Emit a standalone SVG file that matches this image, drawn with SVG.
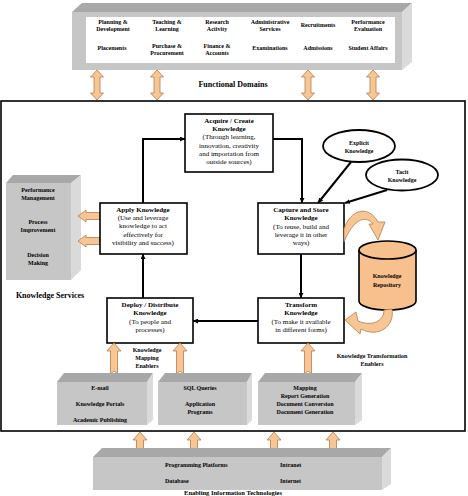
<svg xmlns="http://www.w3.org/2000/svg" width="468" height="496" viewBox="0 0 468 496">
<defs>
<marker id="ah" viewBox="0 0 8 8" refX="8" refY="4" markerWidth="5" markerHeight="5" orient="auto" markerUnits="userSpaceOnUse">
<path d="M0,0 L8,4 L0,8 Z" fill="#000"/>
</marker>
</defs>
<style>
text{font-family:"Liberation Serif","Times New Roman",serif;fill:#000;text-anchor:middle}
.b{font-weight:bold}
.s6{font-size:6px}
.s7{font-size:7px}
.s8{font-size:8px}
.front{fill:#C6C6C6}
.top{fill:#A8A8A8}
.side{fill:#DADADA}
.box{fill:#fff;stroke:#000;stroke-width:1.6}
.conn{fill:none;stroke:#000;stroke-width:2;marker-end:url(#ah)}
.pe{fill:#F8C692;stroke:#B07D50;stroke-width:0.8}
.ell{fill:#fff;stroke:#000;stroke-width:1.8}
.l{text-anchor:start}
</style>
<rect x="0" y="0" width="468" height="496" fill="#fff"/>

<g id="functional-domains">
<polygon class="top" points="72,12 82,3 412,3 402,12"/>
<polygon class="side" points="402,12 412,3 412,62 402,70"/>
<rect class="front" x="72" y="12" width="330" height="58"/>
<rect x="86" y="17" width="309" height="46" fill="#fff"/>
<g class="b s6">
<text x="113" y="24">Planning &amp;</text><text x="113" y="31">Development</text>
<text x="167" y="24">Teaching &amp;</text><text x="167" y="31">Learning</text>
<text x="217" y="24">Research</text><text x="217" y="31">Activity</text>
<text x="270" y="24">Administrative</text><text x="270" y="31">Services</text>
<text x="318" y="27">Recruitments</text>
<text x="368" y="24">Performance</text><text x="368" y="31">Evaluation</text>
<text x="112" y="50">Placements</text>
<text x="167" y="48">Purchase &amp;</text><text x="167" y="55">Procurement</text>
<text x="217" y="48">Finance &amp;</text><text x="217" y="55">Accounts</text>
<text x="270" y="50">Examinations</text>
<text x="318" y="50">Admissions</text>
<text x="368" y="50">Student Affairs</text>
</g>
<text class="b s8" x="233" y="87">Functional Domains</text>
</g>

<g id="domain-arrows">
<polygon class="pe" points="97,70 103.5,77 100,77 100,93 103.5,93 97,100 90.5,93 94,93 94,77 90.5,77"/>
<polygon class="pe" points="157,70 163.5,77 160,77 160,93 163.5,93 157,100 150.5,93 154,93 154,77 150.5,77"/>
<polygon class="pe" points="308,70 314.5,77 311,77 311,93 314.5,93 308,100 301.5,93 305,93 305,77 301.5,77"/>
<polygon class="pe" points="373,70 379.5,77 376,77 376,93 379.5,93 373,100 366.5,93 370,93 370,77 366.5,77"/>
</g>

<g id="knowledge-services-frame">
<rect x="1" y="101" width="464" height="330" fill="none" stroke="#000" stroke-width="1.6"/>
<text class="b s8" x="50" y="298">Knowledge Services</text>
</g>

<g id="performance-box">
<polygon class="top" points="6,183 13,175 81,175 71,183"/>
<polygon class="side" points="71,183 81,175 81,270 71,280"/>
<rect class="front" x="6" y="183" width="65" height="97"/>
<g class="b s6">
<text x="38" y="192">Performance</text><text x="38" y="200">Management</text>
<text x="38" y="224">Process</text><text x="38" y="232">Improvement</text>
<text x="38" y="257">Decision</text><text x="38" y="265">Making</text>
</g>
</g>

<g id="apply-arrows">
<polygon class="pe" points="78,216 86,210 86,212.5 100,212.5 100,219.5 86,219.5 86,222"/>
<polygon class="pe" points="78,241 86,235 86,237.5 100,237.5 100,244.5 86,244.5 86,247"/>
</g>

<g id="connectors">
<path class="conn" d="M143,203 V139 H185"/>
<path class="conn" d="M273,139 H302 V203"/>
<path class="conn" d="M301,254 V298"/>
<path class="conn" d="M258,321 H193"/>
<path class="conn" d="M143,298 V254"/>
<path class="conn" d="M351,162 L318,203"/>
<path class="conn" d="M387,190 L345,203"/>
</g>

<g id="acquire">
<rect class="box" x="185" y="114" width="88" height="58"/>
<text class="b s7" x="229" y="123">Acquire / Create</text>
<text class="b s7" x="229" y="131">Knowledge</text>
<text class="s7" x="229" y="139">(Through learning,</text>
<text class="s7" x="229" y="148">innovation, creativity</text>
<text class="s7" x="229" y="156">and importation from</text>
<text class="s7" x="229" y="164">outside sources)</text>
</g>

<g id="explicit">
<ellipse class="ell" cx="359" cy="146" rx="36" ry="16"/>
<text class="b s6" x="359" y="145">Explicit</text>
<text class="b s6" x="359" y="153">Knowledge</text>
</g>

<g id="tacit">
<ellipse class="ell" cx="402" cy="175" rx="36" ry="15.5"/>
<text class="b s6" x="402" y="174">Tacit</text>
<text class="b s6" x="402" y="182">Knowledge</text>
</g>

<g id="apply">
<rect class="box" x="100" y="203" width="87" height="51"/>
<text class="b s7" x="143" y="212">Apply Knowledge</text>
<text class="s7" x="143" y="220">(Use and leverage</text>
<text class="s7" x="143" y="228">knowledge to act</text>
<text class="s7" x="143" y="237">effectively for</text>
<text class="s7" x="143" y="245">visibility and success)</text>
</g>

<g id="capture">
<rect class="box" x="258" y="203" width="86" height="51"/>
<text class="b s7" x="301" y="212">Capture and Store</text>
<text class="b s7" x="301" y="220">Knowledge</text>
<text class="s7" x="301" y="229">(To reuse, build and</text>
<text class="s7" x="301" y="237">leverage it in other</text>
<text class="s7" x="301" y="245">ways)</text>
</g>

<g id="repository">
<path d="M359,250 V301 A28.5,9 0 0 0 416,301 V250" fill="#F8C08C" stroke="#000" stroke-width="1.6"/>
<ellipse cx="387.5" cy="250" rx="28.5" ry="9" fill="#F8C08C" stroke="#000" stroke-width="1.6"/>
<text class="b s6" x="387" y="278">Knowledge</text>
<text class="b s6" x="387" y="287">Repository</text>
</g>

<g id="curved-arrows">
<path class="pe" d="M344,229 C350,210 368,204 378,222 L385,222 L378,240 L369,224 L373,224 C365,214 353,220 344,242 Z"/>
<path class="pe" d="M392,309 C395,327 378,338 361,329 L360,334 L345,320 L356,312 L358,321 C372,327 384,321 384,310 Z"/>
</g>

<g id="transform">
<rect class="box" x="258" y="298" width="86" height="45"/>
<text class="b s7" x="301" y="307">Transform</text>
<text class="b s7" x="301" y="315">Knowledge</text>
<text class="s7" x="301" y="324">(To make it available</text>
<text class="s7" x="301" y="332">in different forms)</text>
</g>

<g id="deploy">
<rect class="box" x="107" y="298" width="86" height="45"/>
<text class="b s7" x="150" y="307">Deploy / Distribute</text>
<text class="b s7" x="150" y="315">Knowledge</text>
<text class="s7" x="150" y="324">(To people and</text>
<text class="s7" x="150" y="332">processes)</text>
</g>

<g id="enabler-labels">
<text class="b s6" x="147" y="352">Knowledge</text>
<text class="b s6" x="147" y="360">Mapping</text>
<text class="b s6" x="147" y="368">Enablers</text>
<text class="b s6" x="372" y="358">Knowledge Transformation</text>
<text class="b s6" x="372" y="366">Enablers</text>
</g>

<g id="enabler-arrows">
<polygon class="pe" points="114,343 121,351 117.5,351 117.5,374 114,371 110.5,374 110.5,351 107,351"/>
<polygon class="pe" points="180,343 187,351 183.5,351 183.5,374 180,371 176.5,374 176.5,351 173,351"/>
<polygon class="pe" points="308,343 315,351 311.5,351 311.5,374 308,371 304.5,374 304.5,351 301,351"/>
</g>

<g id="email-box">
<polygon class="top" points="57,382 64,373 153,373 147,382"/>
<polygon class="side" points="147,382 153,373 153,420 147,425"/>
<rect class="front" x="57" y="382" width="90" height="43"/>
<g class="b s6">
<text x="100" y="390">E-mail</text>
<text x="100" y="406">Knowledge Portals</text>
<text x="100" y="422">Academic Publishing</text>
</g>
</g>

<g id="sql-box">
<polygon class="top" points="158,382 165,373 252,373 247,382"/>
<polygon class="side" points="247,382 252,373 252,420 247,425"/>
<rect class="front" x="158" y="382" width="89" height="43"/>
<g class="b s6">
<text x="200" y="390">SQL Queries</text>
<text x="200" y="406">Application</text>
<text x="200" y="414">Programs</text>
</g>
</g>

<g id="mapping-box">
<polygon class="top" points="258,382 265,373 362,373 355,382"/>
<polygon class="side" points="355,382 362,373 362,420 355,425"/>
<rect class="front" x="258" y="382" width="97" height="43"/>
<g class="b s6">
<text x="305" y="390">Mapping</text>
<text x="305" y="398">Report Generation</text>
<text x="305" y="406">Document Conversion</text>
<text x="305" y="414">Document Generation</text>
</g>
</g>

<g id="it-arrows">
<polygon class="pe" points="140,432 147,440 143.5,440 143.5,453 140,450 136.5,453 136.5,440 133,440"/>
<polygon class="pe" points="194,432 201,440 197.5,440 197.5,453 194,450 190.5,453 190.5,440 187,440"/>
<polygon class="pe" points="274,432 281,440 277.5,440 277.5,453 274,450 270.5,453 270.5,440 267,440"/>
<polygon class="pe" points="333,432 340,440 336.5,440 336.5,453 333,450 329.5,453 329.5,440 326,440"/>
</g>

<g id="it-base">
<polygon class="top" points="93,457 102,448 391,448 382,457"/>
<polygon class="side" points="382,457 391,448 391,484 382,490"/>
<rect class="front" x="93" y="457" width="289" height="33"/>
<g class="b s6">
<text class="l" x="165" y="467">Programming Platforms</text>
<text class="l" x="280" y="467">Intranet</text>
<text class="l" x="165" y="483">Database</text>
<text class="l" x="280" y="483">Internet</text>
</g>
<text class="b" style="font-size:6.5px" x="233" y="495">Enabling Information Technologies</text>
</g>
</svg>
